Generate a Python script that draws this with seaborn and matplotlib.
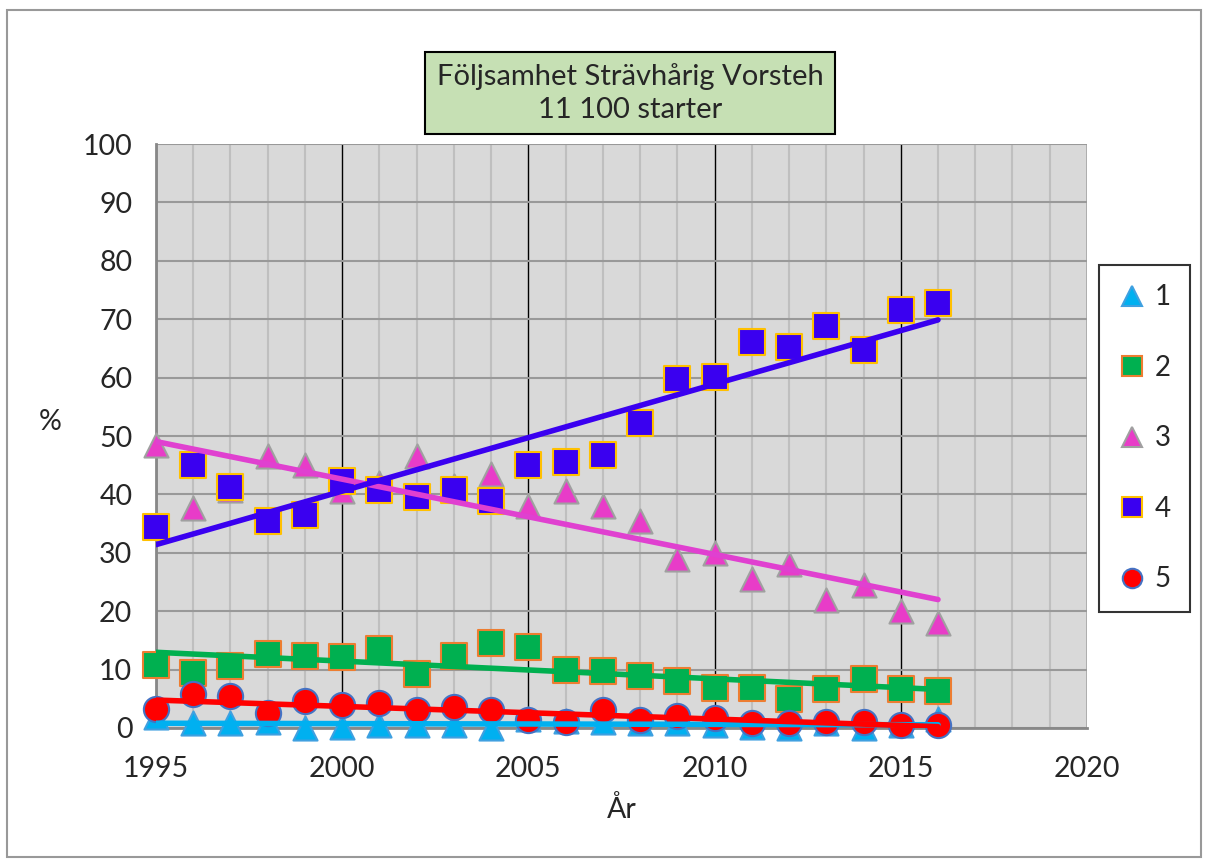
#!/usr/bin/env python3
"""Följsamhet Strävhårig Vorsteh - andel per klass och år, med trendlinjer."""

import matplotlib
matplotlib.use("Agg")
import matplotlib.pyplot as plt
from matplotlib.lines import Line2D
from matplotlib.patches import Rectangle
from matplotlib.ticker import MultipleLocator
import pandas as pd
import seaborn as sns

YEARS = list(range(1995, 2017))

KLASS_1 = [1.8, 0.8, 0.8, 1.0, 0.0, 0.2, 0.5, 0.5, 0.5, 0.0, 1.5,
           1.2, 1.0, 0.8, 0.8, 0.5, 0.2, 0.0, 0.8, 0.0, 0.5, 1.5]
KLASS_2 = [10.8, 9.5, 10.7, 12.7, 12.3, 12.2, 13.6, 9.3, 12.3, 14.5, 13.9,
           10.0, 9.8, 8.9, 8.0, 6.9, 6.8, 4.9, 6.7, 8.4, 6.6, 6.4]
KLASS_3 = [48.5, 37.7, 40.8, 46.5, 45.0, 40.5, 42.0, 46.5, 41.5, 43.5, 38.0,
           40.5, 38.0, 35.5, 29.0, 30.0, 25.5, 28.0, 22.0, 24.5, 20.0, 18.0]
KLASS_4 = [34.4, 45.0, 41.3, 35.4, 36.5, 42.3, 40.8, 39.6, 40.8, 38.9, 45.1,
           45.6, 46.7, 52.3, 59.7, 60.1, 66.1, 65.3, 68.9, 64.8, 71.6, 72.8]
KLASS_5 = [3.3, 5.8, 5.5, 2.6, 4.7, 3.9, 4.2, 3.1, 3.6, 3.1, 1.3,
           1.1, 3.1, 1.3, 2.1, 1.7, 0.8, 0.8, 1.0, 1.1, 0.5, 0.5]

LABELS = ["1", "2", "3", "4", "5"]
TITLE = "Följsamhet Strävhårig Vorsteh\n11 100 starter"

STYLES = {
    "1": dict(marker="^", face="#00B0F0", edge="#3FA0E0", line="#00B0F0", size=300),
    "2": dict(marker="s", face="#00B050", edge="#ED7D31", line="#00B050", size=330),
    "3": dict(marker="^", face="#E83CC8", edge="#A0A0A0", line="#E040D0", size=300),
    "4": dict(marker="s", face="#3A00F0", edge="#FFC000", line="#3A00F0", size=330),
    "5": dict(marker="o", face="#FF0000", edge="#4472C4", line="#FF0000", size=330),
}

frame = pd.DataFrame({
    "year": YEARS * 5,
    "pct": KLASS_1 + KLASS_2 + KLASS_3 + KLASS_4 + KLASS_5,
    "klass": [lab for lab in LABELS for _ in YEARS],
})

sns.set_style("white")
plt.rcParams["font.family"] = ["Lato", "DejaVu Sans"]
plt.rcParams["font.size"] = 20

fig = plt.figure(figsize=(12.08, 8.65), dpi=100)
ax = fig.add_axes([0.1291, 0.1584, 0.7707, 0.6751])
ax.set_facecolor("#D9D9D9")

for lab in LABELS:
    st = STYLES[lab]
    sub = frame[frame["klass"] == lab]
    sns.scatterplot(data=sub, x="year", y="pct", marker=st["marker"], s=st["size"],
                    color=st["face"], edgecolor=st["edge"], linewidth=1.5,
                    ax=ax, zorder=3, clip_on=False, legend=False)

for lab in LABELS:
    st = STYLES[lab]
    sub = frame[frame["klass"] == lab]
    sns.regplot(data=sub, x="year", y="pct", scatter=False, ci=None, ax=ax,
                line_kws=dict(color=st["line"], lw=4, solid_capstyle="round", zorder=4))

ax.set_xlim(1995, 2020)
ax.set_ylim(0, 100)
ax.xaxis.set_major_locator(MultipleLocator(5))
ax.xaxis.set_minor_locator(MultipleLocator(1))
ax.yaxis.set_major_locator(MultipleLocator(10))

ax.grid(True, which="minor", axis="x", color="#BFBFBF", lw=1.5, zorder=0)
ax.grid(True, which="major", axis="x", color="#000000", lw=1, zorder=0)
ax.grid(True, which="major", axis="y", color="#999999", lw=1.5, zorder=0)
ax.set_axisbelow(True)

for side in ["top", "right"]:
    ax.spines[side].set_visible(False)
ax.spines["left"].set_color("#888888")
ax.spines["left"].set_linewidth(2)
ax.spines["bottom"].set_color("#888888")
ax.spines["bottom"].set_linewidth(2)

ax.tick_params(axis="both", which="major", direction="out", length=8, width=1.5,
               color="#888888", labelsize=20.5, pad=9)
ax.tick_params(axis="x", which="minor", length=0)
ax.tick_params(axis="x", which="major", pad=12)

ax.set_xlabel("År", fontsize=20.5, labelpad=10)
ax.set_ylabel("")
fig.text(50 / 1208, 1 - 422 / 865, "%", fontsize=20.5, ha="center", va="center")

fig.text(630 / 1208, 1 - 93 / 865, TITLE, fontsize=21, ha="center", va="center",
         linespacing=1.3,
         bbox=dict(boxstyle="square,pad=0.4", facecolor="#C6E0B4",
                   edgecolor="black", lw=1.5))

handles = [
    Line2D([], [], linestyle="none", marker=STYLES[lab]["marker"],
           markerfacecolor=STYLES[lab]["face"], markeredgecolor=STYLES[lab]["edge"],
           markeredgewidth=1.5, markersize=14)
    for lab in LABELS
]
leg = fig.legend(handles, LABELS, loc="upper left",
                 bbox_to_anchor=(1099 / 1208, 1 - 265 / 865),
                 frameon=True, fancybox=False, fontsize=20, labelspacing=1.6,
                 handlelength=1.0, handletextpad=0.3, borderpad=0.7,
                 borderaxespad=0)
leg.get_frame().set_edgecolor("black")
leg.get_frame().set_linewidth(1.5)

fig.patches.append(Rectangle((7 / 1208, 1 - 857 / 865), 1194 / 1208, 847 / 865,
                             transform=fig.transFigure, fill=False,
                             edgecolor="#999999", lw=1.5))

fig.savefig("out.png", dpi=100)
